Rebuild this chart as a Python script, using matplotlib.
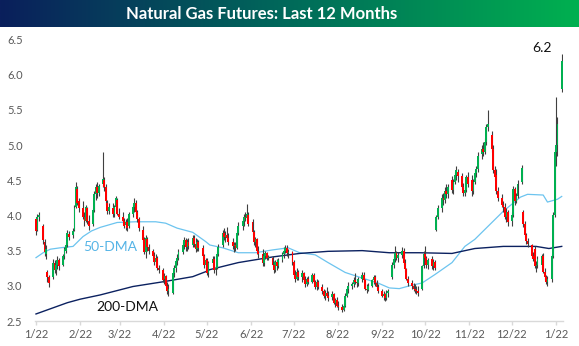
import numpy as np
import pandas as pd
import matplotlib
matplotlib.use("Agg")
import matplotlib.pyplot as plt
import matplotlib.dates as mdates
from matplotlib.colors import LinearSegmentedColormap

plt.rcParams['font.family'] = ['Lato', 'DejaVu Sans']

title = "Natural Gas Futures: Last 12 Months"

# trading days, one candle each
days = pd.bdate_range('2025-01-22', '2026-01-26')

open_px = [
    3.95, 3.80, 3.98, 3.85, 3.62, 3.45, 3.20, 3.13,  # Jan
    3.12, 3.32, 3.22, 3.30, 3.36, 3.30, 3.42, 3.50, 3.58, 3.74,
    3.72, 3.80, 4.12, 4.38, 4.20, 4.10, 3.98, 3.92, 4.10, 3.92,  # Feb
    3.88, 4.08, 4.30, 4.40, 4.32, 4.45, 4.50, 4.40, 4.18, 4.06,
    4.10, 4.02, 4.12, 4.22, 4.02, 3.98, 3.92, 3.86, 3.90, 3.85, 4.02,  # Mar
    4.12, 4.18, 4.05, 3.95, 3.80, 3.66, 3.48, 3.66, 3.55, 3.50, 3.42,
    3.34, 3.40, 3.25, 3.22, 3.10, 3.14, 3.00, 2.92, 2.90, 3.18, 3.25,  # Apr
    3.35, 3.40, 3.48, 3.58, 3.65, 3.55, 3.62, 3.58, 3.68, 3.60, 3.52,
    3.62, 3.54, 3.42, 3.30, 3.36, 3.18, 3.32, 3.38, 3.22, 3.26, 3.45,  # May
    3.58, 3.75, 3.70, 3.72, 3.68, 3.62, 3.56, 3.58, 3.54, 3.75,
    3.85, 3.92, 3.98, 3.96, 4.00, 3.90, 3.76, 3.62, 3.66, 3.50, 3.45,  # Jun
    3.32, 3.42, 3.46, 3.40, 3.40, 3.30, 3.22, 3.34, 3.28, 3.36, 3.45, 3.50,
    3.54, 3.46, 3.48, 3.34, 3.15, 3.10, 3.20, 3.12, 3.18, 3.08, 3.02,  # Jul
    3.10, 3.06, 3.15, 3.05, 2.98, 3.06, 2.98, 2.92, 2.85, 2.90, 2.86,
    2.84, 2.88, 2.76, 2.80, 2.72, 2.70, 2.66, 2.72, 2.86, 2.96,  # Aug
    3.00, 3.02, 3.08, 3.06, 3.04, 3.10, 3.16, 3.08, 2.96, 2.94, 3.00,
    3.08, 3.12, 3.04, 2.98, 2.92, 2.86, 2.88, 2.82, 2.90, 3.12, 3.30,  # Sep
    3.38, 3.46, 3.40, 3.44, 3.50, 3.32, 3.24, 3.10, 3.04, 3.00, 2.96, 2.94,
    2.92, 2.95, 3.28, 3.45, 3.40, 3.30, 3.38, 3.28, 3.34, 3.80, 3.98,  # Oct
    4.10, 4.25, 4.22, 4.35, 4.30, 4.50, 4.36, 4.48, 4.58, 4.62,
    4.56, 4.40, 4.32, 4.36, 4.55, 4.50, 4.35, 4.48, 4.60, 4.66,  # Nov
    4.88, 4.95, 4.90, 5.05, 5.25, 5.15, 4.95, 4.65, 4.58, 4.35, 4.25, 4.15,
    4.12, 3.98, 4.05, 3.92, 4.00, 4.38, 4.20, 4.28, 4.48, 4.05, 3.88,  # Dec
    3.72, 3.64, 3.58, 3.42, 3.52, 3.28, 3.30, 3.30, 3.42, 3.20, 3.12,
    3.06, 3.10, 3.42, 4.00, 4.90, 5.00, 5.80,  # Jan
]
high_px = [
    3.98, 4.02, 4.05, 3.88, 3.66, 3.58, 3.22, 3.15,
    3.38, 3.36, 3.35, 3.42, 3.40, 3.45, 3.55, 3.62, 3.80, 3.78,
    3.82, 4.15, 4.47, 4.42, 4.25, 4.20, 4.05, 4.15, 4.12, 4.00,
    4.10, 4.35, 4.45, 4.48, 4.45, 4.90, 4.55, 4.45, 4.22, 4.18,
    4.18, 4.15, 4.28, 4.25, 4.10, 4.05, 3.96, 3.95, 3.96, 4.05, 4.15,
    4.25, 4.22, 4.08, 3.98, 3.85, 3.70, 3.72, 3.70, 3.60, 3.52, 3.48,
    3.45, 3.42, 3.30, 3.25, 3.18, 3.16, 3.05, 3.02, 3.20, 3.30, 3.38,
    3.45, 3.52, 3.62, 3.70, 3.68, 3.66, 3.68, 3.72, 3.72, 3.68, 3.66,
    3.65, 3.58, 3.45, 3.40, 3.40, 3.35, 3.42, 3.42, 3.30, 3.50, 3.60,
    3.80, 3.82, 3.78, 3.84, 3.75, 3.68, 3.62, 3.62, 3.78, 3.90,
    3.95, 4.02, 4.05, 4.16, 4.05, 3.95, 3.80, 3.70, 3.68, 3.56, 3.52,
    3.45, 3.50, 3.48, 3.44, 3.42, 3.35, 3.36, 3.38, 3.40, 3.48, 3.55, 3.58,
    3.58, 3.52, 3.50, 3.36, 3.22, 3.25, 3.22, 3.22, 3.20, 3.14, 3.12,
    3.14, 3.18, 3.18, 3.08, 3.10, 3.08, 3.02, 2.96, 2.94, 2.98, 2.92,
    2.92, 2.90, 2.82, 2.84, 2.78, 2.74, 2.76, 2.90, 2.98, 3.05,
    3.06, 3.12, 3.18, 3.10, 3.12, 3.20, 3.20, 3.10, 3.02, 3.04, 3.10,
    3.16, 3.15, 3.08, 3.02, 2.96, 2.92, 2.90, 2.94, 2.96, 3.34, 3.42,
    3.57, 3.50, 3.48, 3.55, 3.54, 3.38, 3.26, 3.14, 3.08, 3.04, 3.02, 3.00,
    3.00, 3.30, 3.50, 3.56, 3.42, 3.40, 3.42, 3.38, 3.36, 4.00, 4.15,
    4.30, 4.32, 4.40, 4.45, 4.45, 4.56, 4.52, 4.62, 4.70, 4.66,
    4.60, 4.46, 4.40, 4.58, 4.62, 4.58, 4.52, 4.65, 4.70, 4.90,
    5.00, 5.05, 5.10, 5.30, 5.50, 5.20, 5.00, 4.70, 4.66, 4.40, 4.30, 4.20,
    4.18, 4.10, 4.08, 4.05, 4.42, 4.40, 4.32, 4.50, 4.72, 4.08, 3.92,
    3.75, 3.68, 3.60, 3.48, 3.56, 3.35, 3.42, 3.45, 3.46, 3.25, 3.16,
    3.14, 3.45, 4.05, 4.95, 5.69, 5.40, 6.30,
]
low_px = [
    3.72, 3.78, 3.92, 3.60, 3.42, 3.38, 3.06, 2.98,
    3.10, 3.18, 3.16, 3.24, 3.22, 3.28, 3.38, 3.46, 3.55, 3.65,
    3.68, 3.78, 4.10, 4.15, 4.05, 3.95, 3.85, 3.90, 3.88, 3.80,
    3.85, 4.05, 4.22, 4.25, 4.28, 4.40, 4.35, 4.15, 4.02, 4.02,
    3.98, 3.98, 4.08, 4.00, 3.95, 3.88, 3.82, 3.80, 3.78, 3.82, 3.98,
    4.05, 4.02, 3.90, 3.78, 3.62, 3.45, 3.40, 3.50, 3.45, 3.38, 3.30,
    3.28, 3.22, 3.18, 3.05, 3.02, 2.98, 2.88, 2.86, 2.88, 3.12, 3.20,
    3.30, 3.36, 3.45, 3.52, 3.50, 3.50, 3.52, 3.55, 3.55, 3.48, 3.50,
    3.50, 3.38, 3.25, 3.22, 3.15, 3.12, 3.28, 3.18, 3.15, 3.24, 3.42,
    3.55, 3.65, 3.62, 3.66, 3.58, 3.52, 3.48, 3.50, 3.52, 3.72,
    3.80, 3.85, 3.92, 3.94, 3.85, 3.72, 3.58, 3.55, 3.45, 3.40, 3.28,
    3.28, 3.38, 3.36, 3.36, 3.28, 3.18, 3.20, 3.22, 3.25, 3.34, 3.40, 3.46,
    3.42, 3.40, 3.30, 3.12, 3.05, 3.08, 3.08, 3.05, 3.05, 2.98, 3.00,
    3.02, 3.04, 3.02, 2.95, 2.94, 2.95, 2.88, 2.82, 2.80, 2.84, 2.78,
    2.80, 2.74, 2.70, 2.70, 2.66, 2.63, 2.64, 2.70, 2.84, 2.90,
    2.96, 2.98, 3.02, 2.98, 3.00, 3.06, 3.04, 2.94, 2.90, 2.92, 2.98,
    3.02, 3.00, 2.96, 2.90, 2.84, 2.80, 2.78, 2.80, 2.84, 3.10, 3.26,
    3.34, 3.36, 3.34, 3.40, 3.30, 3.20, 3.08, 3.00, 2.96, 2.92, 2.90, 2.88,
    2.86, 2.94, 3.26, 3.36, 3.26, 3.24, 3.24, 3.22, 3.22, 3.78, 3.95,
    4.05, 4.15, 4.18, 4.25, 4.25, 4.32, 4.30, 4.44, 4.50, 4.48,
    4.36, 4.28, 4.28, 4.34, 4.40, 4.28, 4.30, 4.45, 4.55, 4.62,
    4.80, 4.85, 4.88, 5.00, 5.20, 4.90, 4.60, 4.50, 4.30, 4.20, 4.12, 4.05,
    3.95, 3.90, 3.85, 3.85, 3.98, 4.15, 4.18, 4.25, 4.45, 3.84, 3.70,
    3.60, 3.55, 3.40, 3.35, 3.25, 3.20, 3.26, 3.26, 3.18, 3.08, 3.02,
    3.00, 3.05, 3.40, 3.98, 4.70, 4.85, 5.75,
]
close_px = [
    3.78, 3.98, 4.00, 3.65, 3.48, 3.52, 3.12, 3.04,
    3.33, 3.22, 3.30, 3.37, 3.28, 3.42, 3.52, 3.58, 3.75, 3.70,
    3.78, 4.10, 4.40, 4.18, 4.10, 3.98, 3.92, 4.12, 3.92, 3.85,
    4.08, 4.30, 4.40, 4.32, 4.42, 4.52, 4.40, 4.20, 4.06, 4.12,
    4.02, 4.12, 4.25, 4.02, 3.98, 3.92, 3.85, 3.90, 3.82, 4.02, 4.12,
    4.18, 4.05, 3.95, 3.82, 3.65, 3.48, 3.68, 3.55, 3.50, 3.42, 3.34,
    3.40, 3.25, 3.22, 3.08, 3.14, 3.00, 2.92, 2.96, 3.18, 3.25, 3.35,
    3.40, 3.48, 3.58, 3.65, 3.55, 3.62, 3.56, 3.68, 3.60, 3.52, 3.62,
    3.54, 3.42, 3.30, 3.36, 3.18, 3.32, 3.38, 3.22, 3.26, 3.45, 3.55,
    3.75, 3.70, 3.72, 3.68, 3.62, 3.56, 3.58, 3.54, 3.75, 3.85,
    3.92, 3.98, 3.96, 4.02, 3.88, 3.76, 3.62, 3.66, 3.50, 3.45, 3.32,
    3.42, 3.46, 3.40, 3.41, 3.30, 3.22, 3.34, 3.28, 3.36, 3.45, 3.50, 3.54,
    3.46, 3.48, 3.34, 3.15, 3.10, 3.20, 3.12, 3.18, 3.08, 3.02, 3.10,
    3.06, 3.15, 3.05, 2.98, 3.06, 2.98, 2.92, 2.85, 2.90, 2.86, 2.82,
    2.88, 2.76, 2.80, 2.72, 2.70, 2.66, 2.72, 2.86, 2.95, 3.00,
    3.02, 3.08, 3.06, 3.04, 3.10, 3.16, 3.08, 2.96, 2.94, 3.00, 3.08,
    3.12, 3.04, 2.98, 2.92, 2.86, 2.88, 2.82, 2.90, 2.92, 3.30, 3.38,
    3.46, 3.40, 3.44, 3.50, 3.32, 3.24, 3.10, 3.04, 3.00, 2.96, 2.94, 2.92,
    2.90, 3.28, 3.45, 3.40, 3.30, 3.36, 3.28, 3.34, 3.26, 3.98, 4.10,
    4.25, 4.22, 4.35, 4.30, 4.40, 4.36, 4.48, 4.58, 4.64, 4.56,
    4.40, 4.32, 4.36, 4.55, 4.45, 4.35, 4.48, 4.60, 4.66, 4.85,
    4.95, 4.90, 5.05, 5.25, 5.30, 4.95, 4.65, 4.55, 4.35, 4.25, 4.15, 4.12,
    3.98, 4.05, 3.90, 4.00, 4.38, 4.20, 4.28, 4.45, 4.68, 3.88, 3.72,
    3.64, 3.60, 3.42, 3.38, 3.28, 3.30, 3.38, 3.42, 3.20, 3.12, 3.06,
    3.10, 3.42, 4.00, 4.90, 5.00, 5.30, 6.20,
]

# moving averages, sampled along the year
dma50_dates = ['2025-01-22', '2025-01-27', '2025-02-01', '2025-02-08', '2025-02-17',
               '2025-02-24', '2025-03-02', '2025-03-08', '2025-03-20', '2025-04-02',
               '2025-04-16', '2025-04-23', '2025-05-01', '2025-05-12', '2025-05-21',
               '2025-05-24', '2025-06-02', '2025-06-13', '2025-06-25', '2025-07-07',
               '2025-07-18', '2025-07-26', '2025-08-06', '2025-08-15', '2025-08-27',
               '2025-09-08', '2025-09-19', '2025-09-27', '2025-10-04', '2025-10-13',
               '2025-10-20', '2025-10-29', '2025-11-10', '2025-11-19', '2025-11-26',
               '2025-12-05', '2025-12-16', '2025-12-28', '2026-01-02', '2026-01-13',
               '2026-01-16', '2026-01-23', '2026-01-26']
dma50 = [3.40, 3.47, 3.52, 3.54, 3.56, 3.70, 3.78, 3.83, 3.90, 3.91,
         3.91, 3.89, 3.82, 3.76, 3.63, 3.58, 3.54, 3.47, 3.47, 3.51,
         3.54, 3.47, 3.44, 3.33, 3.19, 3.11, 3.04, 2.97, 2.96, 3.01,
         3.04, 3.16, 3.33, 3.56, 3.66, 3.84, 4.06, 4.26, 4.30, 4.29,
         4.19, 4.23, 4.27]

dma200_dates = ['2025-01-22', '2025-02-13', '2025-02-22', '2025-03-08', '2025-03-31',
                '2025-04-22', '2025-05-12', '2025-05-21', '2025-05-24', '2025-06-13',
                '2025-07-07', '2025-07-26', '2025-08-15', '2025-09-08', '2025-09-27',
                '2025-10-18', '2025-11-10', '2025-11-26', '2025-12-16', '2026-01-08',
                '2026-01-17', '2026-01-26']
dma200 = [2.60, 2.76, 2.81, 2.87, 2.99, 3.06, 3.13, 3.20, 3.23, 3.33,
          3.41, 3.46, 3.49, 3.50, 3.47, 3.47, 3.46, 3.53, 3.56, 3.56,
          3.53, 3.56]

tick_dates = pd.date_range('2025-01-22', '2026-01-22', freq=pd.DateOffset(months=1))
y_ticks = [2.5, 3.0, 3.5, 4.0, 4.5, 5.0, 5.5, 6.0, 6.5]

W, H = 579, 346
fig = plt.figure(figsize=(W / 100, H / 100), dpi=100)

# gradient header band
band = fig.add_axes([0, 1 - 27 / H, 1, 27 / H])
cmap = LinearSegmentedColormap.from_list('band', ['#0a1f5c', '#006a5a', '#00b050'])
band.imshow(np.linspace(0, 1, 256).reshape(1, -1), aspect='auto', cmap=cmap,
            extent=[0, 1, 0, 1])
band.set_xlim(0, 1)
band.set_ylim(0, 1)
band.axis('off')
band.text(262 / W, 0.48, title, color='white', fontweight='bold', fontsize=12,
          ha='center', va='center', family=['Liberation Sans Narrow', 'Lato'])

ax = fig.add_axes([35 / W, 25 / H, 528 / W, 281.5 / H])
x = mdates.date2num(days)
o = np.array(open_px)
h = np.array(high_px)
l = np.array(low_px)
c = np.array(close_px)

ax.plot(mdates.date2num(pd.to_datetime(dma50_dates)), dma50, color='#6cc4ef', lw=0.9, zorder=1)
ax.plot(mdates.date2num(pd.to_datetime(dma200_dates)), dma200, color='#0b2160', lw=1.0, zorder=1)

ax.vlines(x, l, h, color='#404040', lw=0.8, zorder=2)
up = c >= o
body_lo = np.minimum(o, c)
body_h = np.maximum(np.abs(c - o), 0.01)
ax.bar(x[up], body_h[up], bottom=body_lo[up], width=1.3, color='#00b050', lw=0, zorder=3)
ax.bar(x[~up], body_h[~up], bottom=body_lo[~up], width=1.3, color='#ff0000', lw=0, zorder=3)

x0 = mdates.date2num(pd.Timestamp('2025-01-22'))
ax.set_xlim(x0 - 0.7, x0 + 369.9)
ax.set_ylim(2.5, 6.5)

ax.set_xticks(mdates.date2num(tick_dates))
ax.set_xticklabels([f"{d.month}/{d.day}" for d in tick_dates])
ax.set_yticks(y_ticks)
ax.set_yticklabels([f"{v:.1f}" for v in y_ticks])
ax.tick_params(axis='x', colors='#d9d9d9', labelcolor='#595959', labelsize=8,
               length=3, width=1, pad=3)
ax.tick_params(axis='y', labelcolor='#595959', labelsize=8, length=0, pad=9)
for side in ['left', 'right', 'top']:
    ax.spines[side].set_visible(False)
ax.spines['bottom'].set_color('#d9d9d9')
ax.spines['bottom'].set_linewidth(1)

ax.text(mdates.date2num(pd.Timestamp('2025-03-15')), 3.55, '50-DMA', color='#55b4e6',
        fontsize=10, ha='center', va='center')
ax.text(mdates.date2num(pd.Timestamp('2025-03-27')), 2.70, '200-DMA', color='#111111',
        fontsize=10, ha='center', va='center')
ax.text(mdates.date2num(pd.Timestamp('2026-01-12')), 6.38, f"{close_px[-1]:.1f}",
        color='#111111', fontsize=10, ha='center', va='center')

fig.savefig('out.png', dpi=100)
